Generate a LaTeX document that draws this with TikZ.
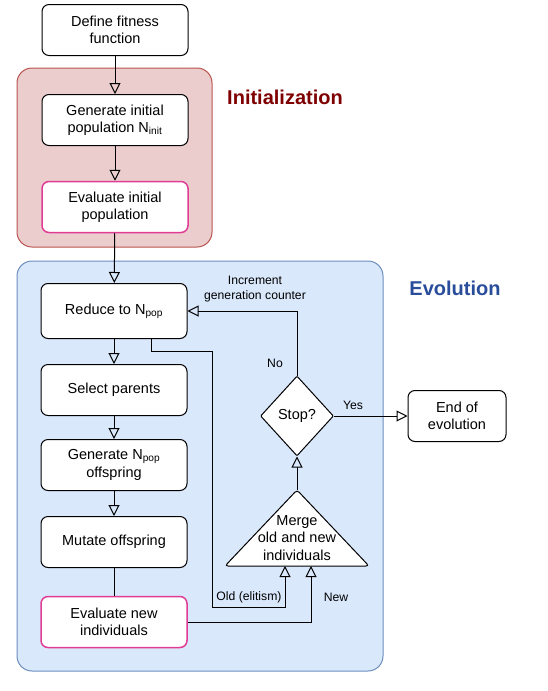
\documentclass[tikz,border=0pt]{standalone}
\usepackage{fontspec}
\setmainfont{Liberation Sans}
\usetikzlibrary{arrows.meta,shapes.geometric}

\definecolor{initfill}{HTML}{EBCDCD}
\definecolor{initline}{HTML}{B85450}
\definecolor{initText}{HTML}{7F0000}
\definecolor{evofill}{HTML}{DAE8FC}
\definecolor{evoline}{HTML}{6C8EBF}
\definecolor{evoText}{HTML}{2A4D9B}
\definecolor{evalline}{HTML}{E03C96}

\begin{document}
\begin{tikzpicture}[
     x = 1pt, y = -1pt,
     box/.style = {draw, fill = white, rounded corners = 7pt, line width = 1pt,
                   minimum width = 146pt, minimum height = 51pt, align = center,
                   font = \fontsize{14.5}{17.5}\selectfont},
     evalbox/.style = {box, draw = evalline, line width = 1.5pt},
     group/.style = {rounded corners = 15pt, line width = 1pt},
     title/.style = {font = \fontsize{20}{24}\selectfont\bfseries},
     lbl/.style = {align = center, font = \fontsize{12.2}{14.5}\selectfont},
     flow/.style = {line width = 1pt, -{Triangle[open, length = 11pt, width = 11pt]}},
     plain/.style = {line width = 1pt}
    ]
    \useasboundingbox (0,0) rectangle (548,691);

    % groups
    \draw[group, fill = initfill, draw = initline] (17,68) rectangle (212,247);
    \draw[group, fill = evofill, draw = evoline] (17,261) rectangle (383,671);
    \node[title, text = initText] (inittitle) at (285,97) {Initialization};
    \node[title, text = evoText] (evotitle) at (455,288) {Evolution};

    % nodes
    \node[box] (fitness) at (115,30) {Define fitness\\function};
    \node[box] (geninit) at (115,120) {Generate initial\\population N\textsubscript{init}};
    \node[evalbox] (evalinit) at (115,207) {Evaluate initial\\population};
    \node[box, minimum height = 55pt] (reduce) at (114,311) {Reduce to N\textsubscript{pop}};
    \node[box] (select) at (114,390) {Select parents};
    \node[box] (genoff) at (114,465) {Generate N\textsubscript{pop}\\offspring};
    \node[box] (mutate) at (114,542) {Mutate offspring};
    \node[evalbox] (evalnew) at (114,622) {Evaluate new\\individuals};
    \node[box, diamond, minimum width = 73pt, minimum height = 80pt,
          inner sep = 0pt, rounded corners = 1pt] (stop) at (297,416) {Stop?};
    \node[box, minimum width = 98pt] (endevo) at (457,416) {End of\\evolution};

    \draw[plain, fill = white, rounded corners = 3pt]
       (225,566) -- (297,490) -- (369,566) -- cycle;
    \node[align = center, font = \fontsize{14.5}{17.5}\selectfont] (merge) at (297,538)
       {Merge\\old and new\\individuals};
    \coordinate (mergetop) at (297,490);
    \coordinate (oldin) at (285,566);
    \coordinate (newin) at (311,566);

    % connectors
    \draw[flow] (fitness) -- (geninit);
    \draw[flow] (geninit) -- (evalinit);
    \draw[flow] (evalinit) -- (reduce);
    \draw[flow] (reduce) -- (select);
    \draw[flow] (select) -- (genoff);
    \draw[flow] (genoff) -- (mutate);
    \draw[plain] (mutate) -- (evalnew);
    \draw[flow] (stop.north) |- (reduce.east);
    \draw[flow] (stop.east) -- (endevo.west);
    \draw[flow] (mergetop) -- (stop.south);
    \draw[flow] ([xshift = 37pt]reduce.south) -- ++(0,12) -| (212,607) -| (oldin);
    \draw[flow] (evalnew.east) -| (newin);

    % labels
    \node[lbl] (inclbl) at (255,289) {Increment\\generation counter};
    \node[lbl] (nolbl) at (275,363) {No};
    \node[lbl] (yeslbl) at (353,405) {Yes};
    \node[lbl] (oldlbl) at (249,597) {Old (elitism)};
    \node[lbl] (newlbl) at (336,597) {New};
   \end{tikzpicture}
\end{document}
